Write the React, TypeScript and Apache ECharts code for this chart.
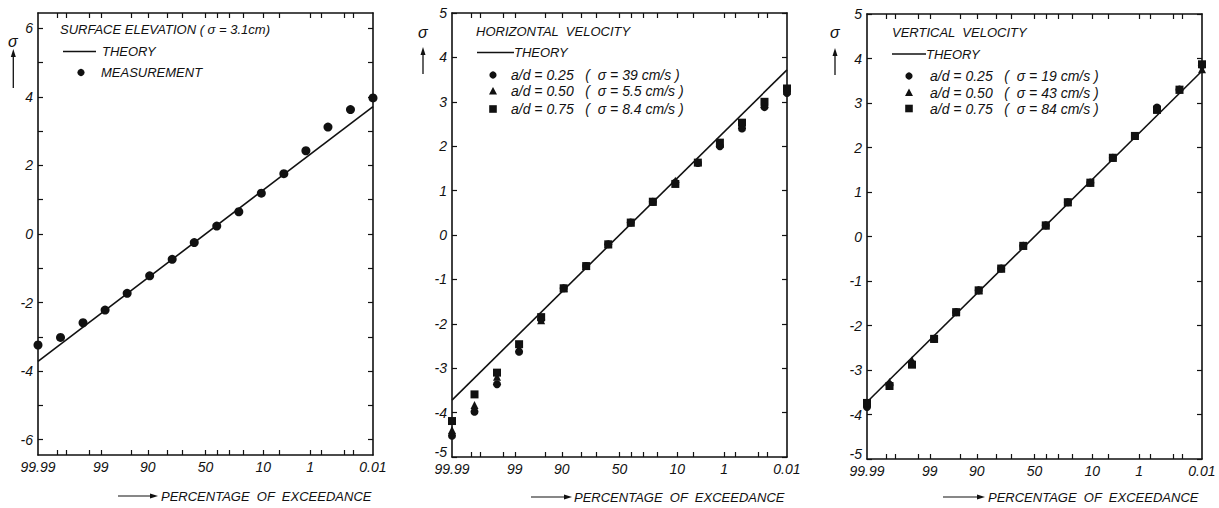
import React, { useEffect, useRef } from "react";
import * as echarts from "echarts";

// ---------- data ----------
// x positions are standard-normal quantiles (probability paper)
const zPos = [-3.72, -3.22, -2.72, -2.23, -1.74, -1.24, -0.74, -0.25, 0.25, 0.74, 1.24, 1.74, 2.23, 2.72, 3.22, 3.72];

const theoryLine = [[-3.72, -3.72], [3.72, 3.72]];

const surfaceMeasured = [-3.24, -3.02, -2.59, -2.22, -1.73, -1.22, -0.74, -0.25, 0.23, 0.65, 1.19, 1.76, 2.43, 3.12, 3.63, 3.97];

const horizAd025 = [-4.52, -3.98, -3.36, -2.63, -1.9, -1.2, -0.7, -0.21, 0.28, 0.75, 1.18, 1.62, 2.0, 2.4, 2.88, 3.2];
const horizAd050 = [-4.39, -3.83, -3.19, -2.55, -1.92, -1.2, -0.7, -0.21, 0.28, 0.75, 1.22, 1.65, 2.05, 2.48, 2.95, 3.25];
const horizAd075 = [-4.19, -3.59, -3.1, -2.46, -1.85, -1.2, -0.7, -0.21, 0.28, 0.75, 1.15, 1.63, 2.08, 2.53, 3.0, 3.3];

const vertAd025 = [-3.83, -3.33, -2.86, -2.3, -1.7, -1.21, -0.72, -0.21, 0.25, 0.77, 1.21, 1.77, 2.26, 2.9, 3.3, 3.85];
const vertAd050 = [-3.75, -3.27, -2.78, -2.3, -1.7, -1.21, -0.72, -0.21, 0.25, 0.77, 1.21, 1.77, 2.26, 2.85, 3.3, 3.76];
const vertAd075 = [-3.74, -3.36, -2.88, -2.3, -1.7, -1.21, -0.72, -0.21, 0.25, 0.77, 1.21, 1.77, 2.26, 2.85, 3.3, 3.87];

// x-axis labels (percentage of exceedance) and their quantile positions
const xLabelTexts = ["99.99", "99", "90", "50", "10", "1", "0.01"];
const xLabelZ = [-3.719, -2.326, -1.282, 0, 1.282, 2.326, 3.719];
// x-axis tick marks: 99.95 99.9 99.5 99 95 90 80 70 50 40 30 20 10 5 1 0.5 0.1 0.05
const xTickZ = [-3.291, -3.09, -2.576, -2.326, -1.645, -1.282, -0.842, -0.524, 0, 0.253, 0.524, 0.842, 1.282, 1.645, 2.326, 2.576, 3.09, 3.291];

const y1Ticks = [-6, -5, -4, -3, -2, -1, 0, 1, 2, 3, 4, 5, 6];
const y1Labels = [-6, -4, -2, 0, 2, 4, 6];
const y23Ticks = [-5, -4, -3, -2, -1, 0, 1, 2, 3, 4, 5];

const panel1Title = "SURFACE ELEVATION ( σ = 3.1cm)";
const panel2Title = "HORIZONTAL  VELOCITY";
const panel3Title = "VERTICAL  VELOCITY";
const theoryText = "THEORY";
const measurementText = "MEASUREMENT";
const horizLegend = ["a/d = 0.25   (  σ = 39 cm/s )", "a/d = 0.50   (  σ = 5.5 cm/s )", "a/d = 0.75   (  σ = 8.4 cm/s )"];
const vertLegend = ["a/d = 0.25   (  σ = 19 cm/s )", "a/d = 0.50   (  σ = 43 cm/s )", "a/d = 0.75   (  σ = 84 cm/s )"];
const xTitle = "PERCENTAGE  OF  EXCEEDANCE";
const yTitle = "σ";

// ---------- styling ----------
const INK = "#111";
const FONT = "Liberation Sans";

function pairs(ys: number[]) {
  return ys.map((y, i) => [zPos[i], y]);
}

function xLabelFormatter(v: number) {
  let best = 0;
  for (let i = 1; i < xLabelZ.length; i++) {
    if (Math.abs(xLabelZ[i] - v) < Math.abs(xLabelZ[best] - v)) best = i;
  }
  return xLabelTexts[best];
}

export default function App() {
  const ref = useRef<HTMLDivElement>(null);

  useEffect(() => {
    if (!ref.current) return;
    const chart = echarts.init(ref.current, null, { renderer: "svg" });

    const grids = [
      { left: 38, top: 13, width: 335, height: 442 },
      { left: 452, top: 13, width: 335, height: 444 },
      { left: 867, top: 14, width: 335, height: 445 },
    ];
    const yRanges = [
      { min: -6.45, max: 6.45, ticks: y1Ticks, labels: y1Labels },
      { min: -5, max: 5, ticks: y23Ticks, labels: y23Ticks },
      { min: -5, max: 5, ticks: y23Ticks, labels: y23Ticks },
    ];

    const xAxes: any[] = [];
    const yAxes: any[] = [];
    grids.forEach((g, gi) => {
      const common = {
        type: "value",
        gridIndex: gi,
        min: -3.72,
        max: 3.72,
        splitLine: { show: false },
        axisLine: { show: true, onZero: false, lineStyle: { color: INK, width: 1.6 } },
      };
      xAxes.push({
        ...common,
        position: "bottom",
        axisTick: { show: true, inside: true, length: 5, customValues: xTickZ, lineStyle: { color: INK, width: 1.2 } },
        axisLabel: {
          show: true,
          customValues: xLabelZ,
          formatter: xLabelFormatter,
          margin: 6,
          fontFamily: FONT,
          fontStyle: "italic",
          fontSize: 14,
          lineHeight: 12,
          color: INK,
        },
      });
      xAxes.push({
        ...common,
        position: "top",
        axisTick: { show: true, inside: true, length: 5, customValues: xTickZ, lineStyle: { color: INK, width: 1.2 } },
        axisLabel: { show: false },
      });
      const yr = yRanges[gi];
      const ycommon = {
        type: "value",
        gridIndex: gi,
        min: yr.min,
        max: yr.max,
        splitLine: { show: false },
        axisLine: { show: true, onZero: false, lineStyle: { color: INK, width: 1.6 } },
        axisTick: { show: true, inside: true, length: 5, customValues: yr.ticks, lineStyle: { color: INK, width: 1.2 } },
      };
      const lowVal = gi > 0 ? yr.min : null;
      yAxes.push({
        ...ycommon,
        position: "left",
        axisLabel: {
          show: true,
          customValues: yr.labels,
          margin: 5,
          fontFamily: FONT,
          fontStyle: "italic",
          fontSize: 14,
          lineHeight: 11,
          color: INK,
          formatter: (v: number) => (lowVal !== null && Math.abs(v - lowVal) < 1e-6 ? `{lo|${v}}` : String(v)),
          rich: {
            lo: {
              fontFamily: FONT,
              fontStyle: "italic",
              fontSize: 14,
              lineHeight: 11,
              color: INK,
              padding: [0, 0, 10, 0],
            },
          },
        },
      });
      yAxes.push({
        ...ycommon,
        position: "right",
        axisLabel: { show: false },
      });
    });

    const theory = (gi: number) => ({
      type: "line",
      xAxisIndex: gi * 2,
      yAxisIndex: gi * 2,
      data: theoryLine,
      symbol: "none",
      lineStyle: { color: INK, width: 1.6 },
      z: 3,
    });
    const scatter = (gi: number, ys: number[], symbol: string, size: number) => ({
      type: "scatter",
      xAxisIndex: gi * 2,
      yAxisIndex: gi * 2,
      data: pairs(ys),
      symbol,
      symbolSize: size,
      itemStyle: { color: INK, opacity: 1 },
      z: 4,
    });

    const series = [
      theory(0),
      scatter(0, surfaceMeasured, "circle", 9),
      theory(1),
      scatter(1, horizAd025, "circle", 8),
      scatter(1, horizAd050, "triangle", 8),
      scatter(1, horizAd075, "rect", 8),
      theory(2),
      scatter(2, vertAd025, "circle", 8),
      scatter(2, vertAd050, "triangle", 8),
      scatter(2, vertAd075, "rect", 8),
    ];

    const font13 = `italic 13px "${FONT}"`;
    const font14 = `italic 14px "${FONT}"`;
    const txt = (x: number, y: number, text: string, font = font13) => ({
      type: "text",
      x,
      y,
      style: { text, font, fill: INK, textAlign: "left", textVerticalAlign: "middle" },
      z: 10,
    });
    const hline = (x1: number, x2: number, y: number) => ({
      type: "line",
      shape: { x1, y1: y, x2, y2: y },
      style: { stroke: INK, lineWidth: 1.5 },
      z: 10,
    });
    const marker = (kind: string, cx: number, cy: number) => {
      if (kind === "circle") return { type: "circle", shape: { cx, cy, r: 3.6 }, style: { fill: INK }, z: 10 };
      if (kind === "triangle")
        return { type: "polygon", shape: { points: [[cx, cy - 4], [cx + 4, cy + 3.5], [cx - 4, cy + 3.5]] }, style: { fill: INK }, z: 10 };
      return { type: "rect", shape: { x: cx - 3.8, y: cy - 3.8, width: 7.6, height: 7.6 }, style: { fill: INK }, z: 10 };
    };
    const upArrow = (x: number, yTop: number, yBot: number) => [
      { type: "line", shape: { x1: x, y1: yBot, x2: x, y2: yTop + 5 }, style: { stroke: INK, lineWidth: 1.3 }, z: 10 },
      { type: "polygon", shape: { points: [[x, yTop], [x + 2.5, yTop + 8], [x - 2.5, yTop + 8]] }, style: { fill: INK }, z: 10 },
    ];
    const rightArrow = (x1: number, x2: number, y: number) => [
      { type: "line", shape: { x1, y1: y, x2: x2 - 5, y2: y }, style: { stroke: INK, lineWidth: 1.2 }, z: 10 },
      { type: "polygon", shape: { points: [[x2, y], [x2 - 8, y - 2.5], [x2 - 8, y + 2.5]] }, style: { fill: INK }, z: 10 },
    ];

    const graphic: any[] = [
      // panel 1
      txt(60, 29, panel1Title),
      hline(63, 96, 51.5),
      txt(102, 51.5, theoryText),
      marker("circle", 81, 72.5),
      txt(101, 72.5, measurementText),
      txt(8, 41, yTitle, `italic 16px "${FONT}"`),
      ...upArrow(13.3, 49, 88),
      ...rightArrow(118, 158, 496),
      txt(161, 496, xTitle),
      // panel 2
      txt(476, 31, panel2Title),
      hline(477, 514, 52.5),
      txt(514, 52.5, theoryText),
      marker("circle", 493, 75),
      txt(511, 75, horizLegend[0], font14),
      marker("triangle", 493, 91),
      txt(511, 91, horizLegend[1], font14),
      marker("rect", 493, 109),
      txt(511, 109, horizLegend[2], font14),
      txt(418, 32, yTitle, `italic 16px "${FONT}"`),
      ...upArrow(423, 47, 74),
      ...rightArrow(531, 572, 497),
      txt(574, 497, xTitle),
      // panel 3
      txt(892, 32, panel3Title),
      hline(892, 926, 54),
      txt(926, 54, theoryText),
      marker("circle", 909, 76),
      txt(930, 76, vertLegend[0], font14),
      marker("triangle", 909, 92.5),
      txt(930, 92.5, vertLegend[1], font14),
      marker("rect", 909, 108.5),
      txt(930, 108.5, vertLegend[2], font14),
      txt(830, 32, yTitle, `italic 16px "${FONT}"`),
      ...upArrow(835, 48, 75),
      ...rightArrow(943, 985, 497),
      txt(988, 497, xTitle),
    ];

    chart.setOption({
      animation: false,
      backgroundColor: "#fff",
      textStyle: { fontFamily: FONT },
      grid: grids,
      xAxis: xAxes,
      yAxis: yAxes,
      series,
      graphic,
    });

    return () => chart.dispose();
  }, []);

  return (
    <div
      ref={ref}
      style={{ position: "fixed", left: 0, top: 0, width: 1219, height: 508, background: "#fff" }}
    />
  );
}
